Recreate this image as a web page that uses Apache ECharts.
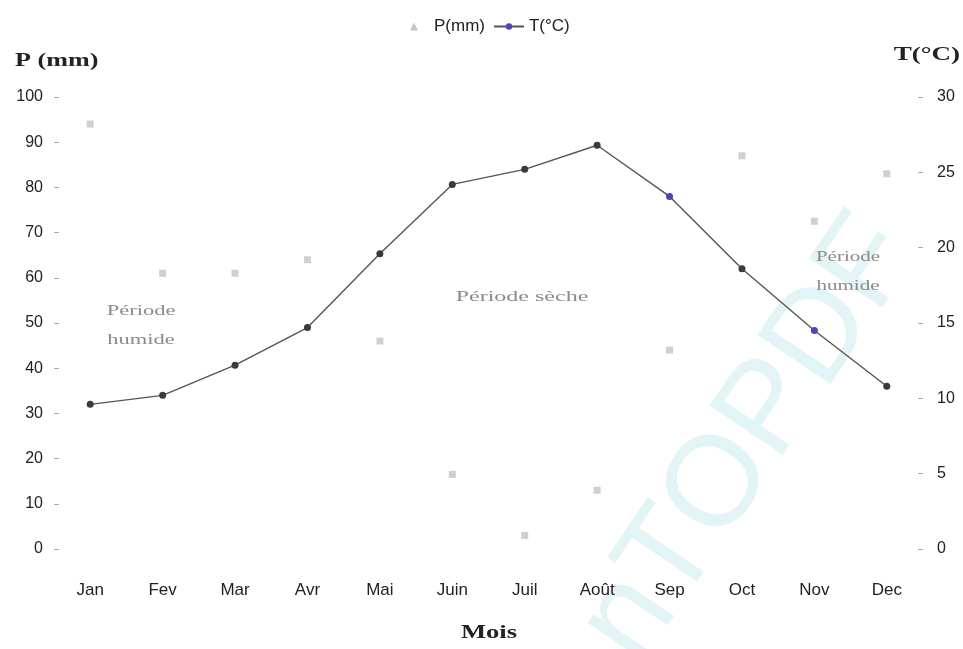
<!DOCTYPE html>
<html>
<head>
<meta charset="utf-8">
<script src="https://cdn.jsdelivr.net/npm/echarts@6/dist/echarts.min.js"></script>
<style>
  html, body { margin: 0; padding: 0; background: #fff; }
  #chart { width: 963px; height: 649px; }
</style>
</head>
<body>
<div id="chart"></div>
<script>
// Ombrothermic diagram: monthly precipitation (points) and temperature (line)
const months = ['Jan', 'Fev', 'Mar', 'Avr', 'Mai', 'Juin', 'Juil', 'Août', 'Sep', 'Oct', 'Nov', 'Dec'];
const precipitation = [94, 61, 61, 64, 46, 16.5, 3, 13, 44, 87, 72.5, 83];
const temperature = [9.6, 10.2, 12.2, 14.7, 19.6, 24.2, 25.2, 26.8, 23.4, 18.6, 14.5, 10.8];
const pTicks = { min: 0, max: 100, interval: 10 };
const tTicks = { min: 0, max: 30, interval: 5 };

const chart = echarts.init(document.getElementById('chart'), null, { renderer: 'canvas' });

const sans = 'Liberation Sans, Arial, sans-serif';
const titleFont = 'bold 18px "Liberation Serif", "Times New Roman", serif';
const noteFont = '15px "Liberation Serif", "Times New Roman", serif';
const blue = '#4b45b8';

chart.setOption({
  animation: false,
  color: ['#c4c4c4', blue],
  grid: { left: 54, right: 40, top: 97, bottom: 100 },
  legend: {
    top: 13,
    left: 405,
    itemGap: 8,
    itemWidth: 30,
    itemHeight: 8,
    symbolKeepAspect: true,
    textStyle: { fontFamily: sans, fontSize: 17, color: '#222' },
    data: [
      { name: 'P(mm)', icon: 'path://M5,0 L10,10 L0,10 Z', itemStyle: { color: '#b8b8b8' } },
      { name: 'T(°C)', itemStyle: { color: blue } }
    ]
  },
  xAxis: {
    type: 'category',
    data: months,
    boundaryGap: true,
    axisLine: { show: false },
    axisTick: { show: false },
    axisLabel: { margin: 33, interval: 0, fontFamily: sans, fontSize: 17, color: '#222' }
  },
  yAxis: [
    {
      type: 'value',
      min: pTicks.min, max: pTicks.max, interval: pTicks.interval,
      splitLine: { show: false },
      axisLine: { show: false },
      axisTick: { show: true, inside: true, length: 5, lineStyle: { color: '#aaa' } },
      axisLabel: { margin: 11, fontFamily: sans, fontSize: 16, color: '#222' }
    },
    {
      type: 'value',
      position: 'right',
      min: tTicks.min, max: tTicks.max, interval: tTicks.interval,
      splitLine: { show: false },
      axisLine: { show: false },
      axisTick: { show: true, inside: true, length: 5, lineStyle: { color: '#aaa' } },
      axisLabel: { margin: 14, fontFamily: sans, fontSize: 16, color: '#222' }
    }
  ],
  series: [
    {
      name: 'P(mm)',
      type: 'scatter',
      yAxisIndex: 0,
      data: precipitation,
      symbol: 'rect',
      symbolSize: 7,
      itemStyle: { color: '#c4c4c4' },
      z: 3
    },
    {
      name: 'T(°C)',
      type: 'line',
      yAxisIndex: 1,
      data: temperature,
      symbol: 'circle',
      symbolSize: 7,
      showAllSymbol: true,
      lineStyle: { color: '#555', width: 1.4 },
      itemStyle: {
        color: function (p) {
          return (p.dataIndex === 8 || p.dataIndex === 10) ? blue : '#3a3a3a';
        }
      },
      z: 4
    }
  ],
  graphic: [
    {
      type: 'text', x: 750, y: 440, z: -10, silent: true,
      rotation: 56 * Math.PI / 180,
      style: {
        text: 'nTOPDF', fill: '#e2f4f6',
        font: '128px "Liberation Sans", Arial, sans-serif',
        align: 'center', verticalAlign: 'middle'
      }
    },
    { type: 'text', x: 15, y: 61, scaleX: 1.45, style: { text: 'P (mm)', font: titleFont, fill: '#222', verticalAlign: 'middle' } },
    { type: 'text', x: 960, y: 55, scaleX: 1.5, style: { text: 'T(°C)', font: titleFont, fill: '#222', align: 'right', verticalAlign: 'middle' } },
    { type: 'text', x: 489, y: 633, scaleX: 1.4, style: { text: 'Mois', font: 'bold 19px "Liberation Serif", "Times New Roman", serif', fill: '#222', align: 'center', verticalAlign: 'middle' } },
    { type: 'text', x: 141, y: 326, scaleX: 1.5, style: { text: 'Période\nhumide', font: noteFont, fill: '#8a8a8a', align: 'center', verticalAlign: 'middle', lineHeight: 29 } },
    { type: 'text', x: 522, y: 297, scaleX: 1.6, style: { text: 'Période sèche', font: noteFont, fill: '#8a8a8a', align: 'center', verticalAlign: 'middle' } },
    { type: 'text', x: 848, y: 272, scaleX: 1.4, style: { text: 'Période\nhumide', font: noteFont, fill: '#8a8a8a', align: 'center', verticalAlign: 'middle', lineHeight: 29 } }
  ]
});
</script>
</body>
</html>
